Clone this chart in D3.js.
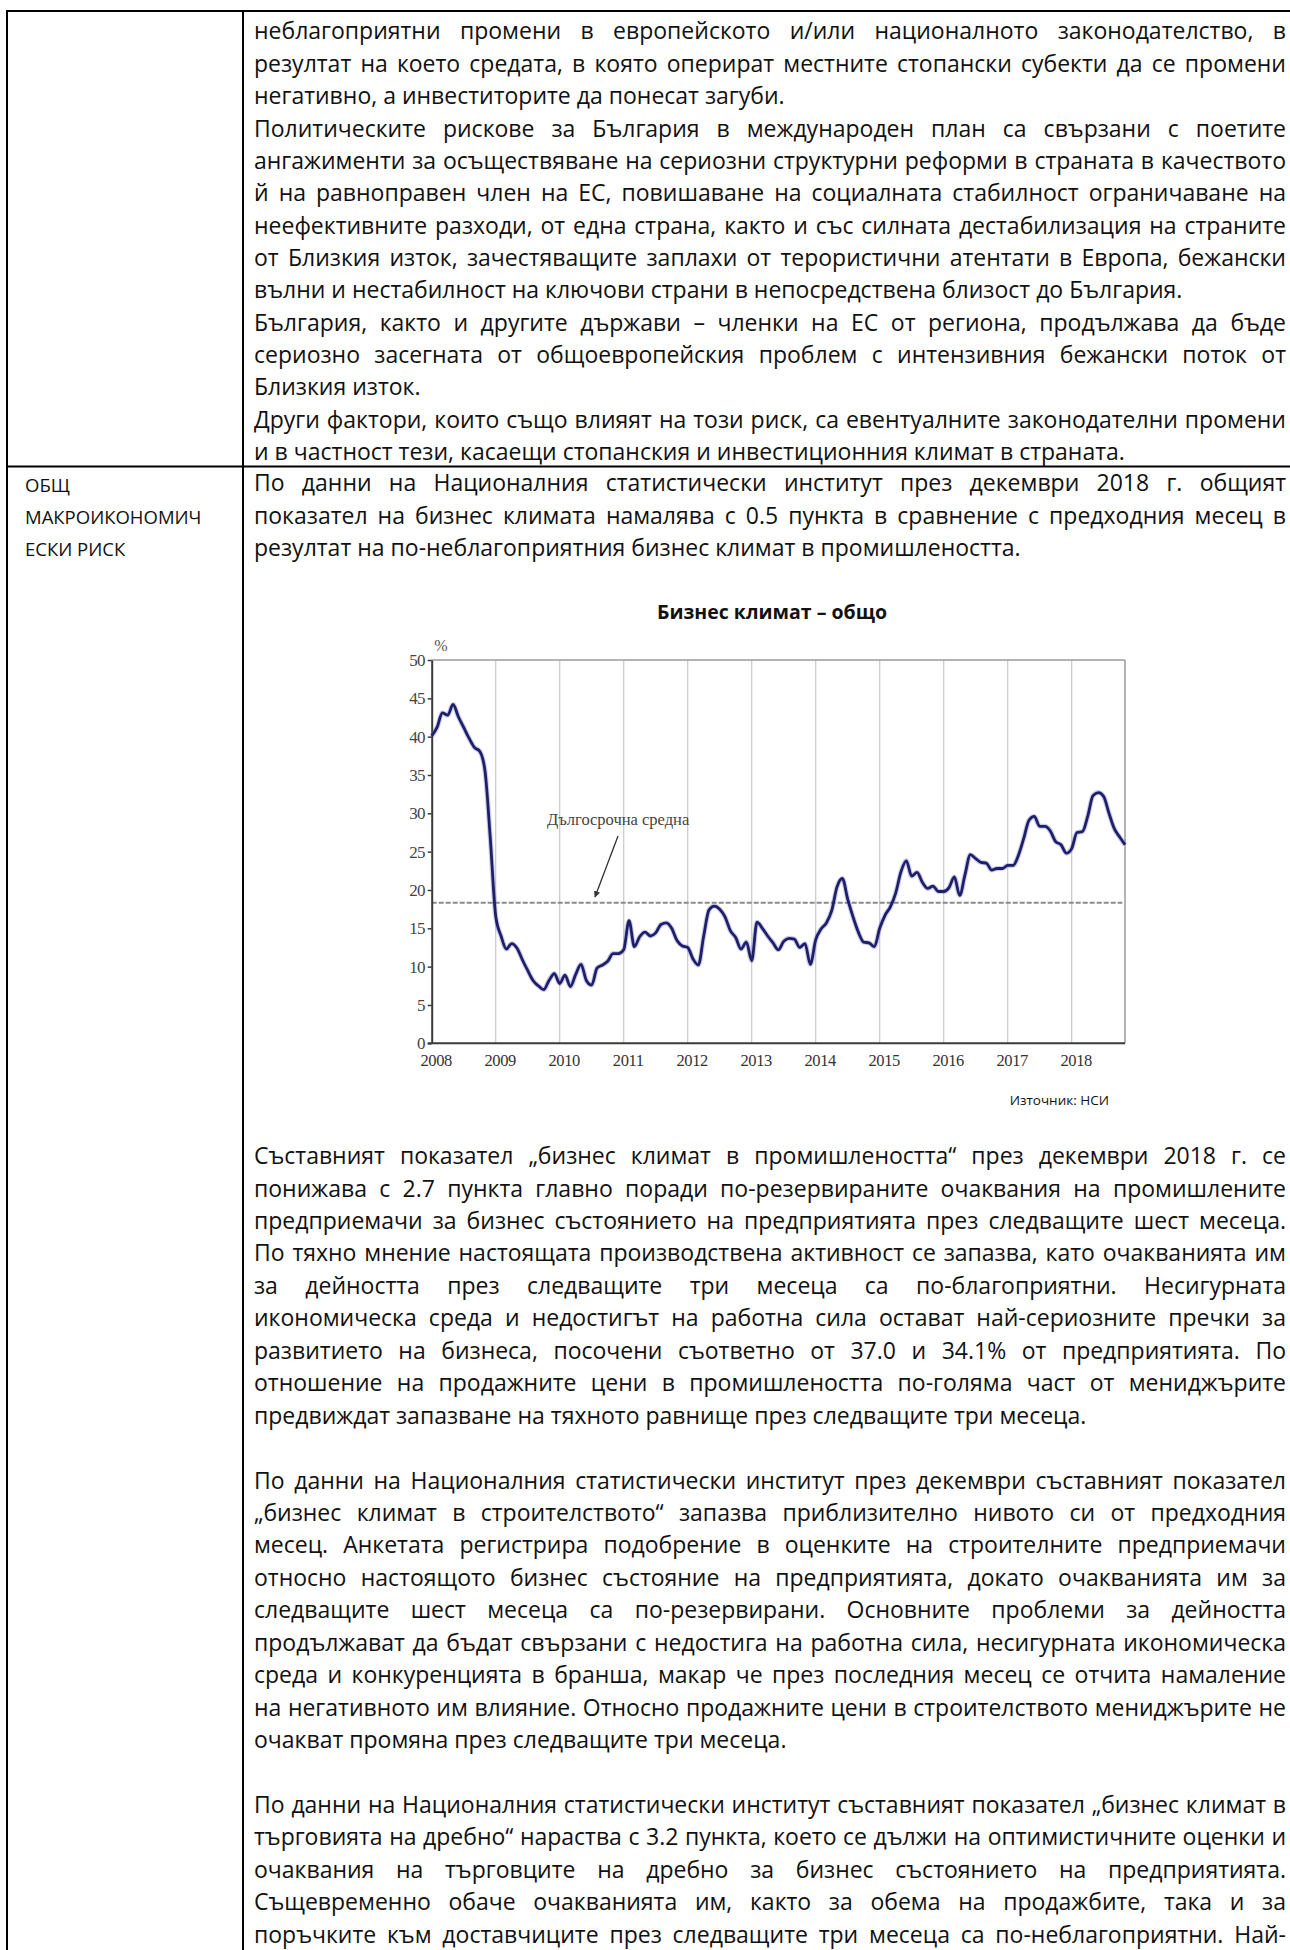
<!DOCTYPE html>
<html><head><meta charset="utf-8">
<script src="https://cdn.jsdelivr.net/npm/d3@7"></script>
<style>html,body{margin:0;padding:0;background:#fff;} svg{display:block;}</style>
</head><body>
<script>
// ---------- DATA ----------
const yearLabels = ["2008","2009","2010","2011","2012","2013","2014","2015","2016","2017","2018"];
const yTicks = [0,5,10,15,20,25,30,35,40,45,50];
const longTermAverage = 18.35;
// monthly business climate index, Jan 2008 ... Nov 2018
const businessClimate = [
 40.1,41.2,43.1,42.8,44.2,42.6,41.2,39.8,38.6,38.1,35.5,26.6,
 16.6,14.0,12.3,13.0,12.4,10.9,9.5,8.2,7.5,7.0,8.2,9.1,
 7.8,8.9,7.4,9.0,10.3,8.2,7.6,9.8,10.2,10.7,11.7,11.7,
 12.2,16.0,12.6,13.9,14.5,14.0,14.4,15.5,15.7,15.0,13.4,12.7,
 12.5,11.0,10.2,14.0,17.4,17.9,17.5,16.5,14.7,13.8,12.3,13.2,
 10.8,15.8,15.0,14.0,13.1,12.2,13.3,13.7,13.6,12.5,13.0,10.3,
 13.5,14.9,15.7,17.3,20.4,21.5,18.8,16.5,14.5,13.2,13.1,12.6,
 15.0,16.7,17.8,19.6,22.4,23.8,21.8,22.3,21.0,20.2,20.5,19.8,
 19.8,20.3,21.7,19.3,22.0,24.6,24.1,23.6,23.5,22.6,22.8,22.8,
 23.2,23.2,24.5,26.7,29.1,29.6,28.3,28.3,27.7,26.3,25.9,24.8,
 25.4,27.5,27.6,29.6,32.3,32.7,32.2,30.0,28.0,26.9,25.9
];
const chartTitle = "Бизнес климат – общо";
const averageLabel = "Дългосрочна средна";
const sourceLabel = "Източник: НСИ";
const rowLabel = ["ОБЩ","МАКРОИКОНОМИЧ","ЕСКИ РИСК"];

const topParagraphs = [
 ["неблагоприятни промени в европейското и/или националното законодателство, в",
  "резултат на което средата, в която оперират местните стопански субекти да се промени",
  "негативно, а инвеститорите да понесат загуби."],
 ["Политическите рискове за България в международен план са свързани с поетите",
  "ангажименти за осъществяване на сериозни структурни реформи в страната в качеството",
  "й на равноправен член на ЕС, повишаване на социалната стабилност ограничаване на",
  "неефективните разходи, от една страна, както и със силната дестабилизация на страните",
  "от Близкия изток, зачестяващите заплахи от терористични атентати в Европа, бежански",
  "вълни и нестабилност на ключови страни в непосредствена близост до България."],
 ["България, както и другите държави – членки на ЕС от региона, продължава да бъде",
  "сериозно засегната от общоевропейския проблем с интензивния бежански поток от",
  "Близкия изток."],
 ["Други фактори, които също влияят на този риск, са евентуалните законодателни промени",
  "и в частност тези, касаещи стопанския и инвестиционния климат в страната."]
];
const introParagraph = [
 "По данни на Националния статистически институт през декември 2018 г. общият",
 "показател на бизнес климата намалява с 0.5 пункта в сравнение с предходния месец в",
 "резултат на по-неблагоприятния бизнес климат в промишлеността."
];
const bottomParagraphs = [
 ["Съставният показател „бизнес климат в промишлеността“ през декември 2018 г. се",
  "понижава с 2.7 пункта главно поради по-резервираните очаквания на промишлените",
  "предприемачи за бизнес състоянието на предприятията през следващите шест месеца.",
  "По тяхно мнение настоящата производствена активност се запазва, като очакванията им",
  "за дейността през следващите три месеца са по-благоприятни. Несигурната",
  "икономическа среда и недостигът на работна сила остават най-сериозните пречки за",
  "развитието на бизнеса, посочени съответно от 37.0 и 34.1% от предприятията. По",
  "отношение на продажните цени в промишлеността по-голяма част от мениджърите",
  "предвиждат запазване на тяхното равнище през следващите три месеца."],
 ["По данни на Националния статистически институт през декември съставният показател",
  "„бизнес климат в строителството“ запазва приблизително нивото си от предходния",
  "месец. Анкетата регистрира подобрение в оценките на строителните предприемачи",
  "относно настоящото бизнес състояние на предприятията, докато очакванията им за",
  "следващите шест месеца са по-резервирани. Основните проблеми за дейността",
  "продължават да бъдат свързани с недостига на работна сила, несигурната икономическа",
  "среда и конкуренцията в бранша, макар че през последния месец се отчита намаление",
  "на негативното им влияние. Относно продажните цени в строителството мениджърите не",
  "очакват промяна през следващите три месеца."],
 ["По данни на Националния статистически институт съставният показател „бизнес климат в",
  "търговията на дребно“ нараства с 3.2 пункта, което се дължи на оптимистичните оценки и",
  "очаквания на търговците на дребно за бизнес състоянието на предприятията.",
  "Същевременно обаче очакванията им, както за обема на продажбите, така и за",
  "поръчките към доставчиците през следващите три месеца са по-неблагоприятни. Най-"]
];

// ---------- PAGE ----------
const W = 1290, H = 1950;
const FONT = "'Open Sans','Noto Sans',sans-serif";
const SERIF = "'Liberation Serif','DejaVu Serif',serif";
const FS = 23;
const TX = 254, TR = 1286, TW = TR - TX;

const svg = d3.select("body").append("svg").attr("width", W).attr("height", H);

// table rules
const rules = svg.append("g").attr("stroke", "#000").attr("stroke-width", 2);
rules.append("line").attr("x1", 6).attr("x2", W).attr("y1", 11).attr("y2", 11);
rules.append("line").attr("x1", 7).attr("x2", 7).attr("y1", 10).attr("y2", H);
rules.append("line").attr("x1", 243).attr("x2", 243).attr("y1", 10).attr("y2", H);
rules.append("line").attr("x1", 6).attr("x2", W).attr("y1", 466.5).attr("y2", 466.5);

const textG = svg.append("g").attr("font-family", FONT).attr("fill", "#111");

function drawLine(text, cy, justify, fs = FS, x0 = TX, width = TW) {
  const words = text.split(" ");
  const g = textG.append("g");
  const t = g.selectAll("text").data(words).join("text")
    .attr("font-size", fs).attr("y", cy + fs * 0.268).text(d => d);
  const widths = t.nodes().map(n => n.getComputedTextLength());
  const total = d3.sum(widths);
  const gap = (justify && words.length > 1) ? (width - total) / (words.length - 1) : fs * 0.26;
  let cx = x0;
  const xs = widths.map(w => { const v = cx; cx += w + gap; return v; });
  t.attr("x", (d, i) => xs[i]);
}
function drawParagraphs(paras, startY, step) {
  let y = startY;
  paras.forEach(p => {
    p.forEach((line, li) => {
      drawLine(line, y, li !== p.length - 1);
      y += step;
    });
  });
}
drawParagraphs(topParagraphs, 33.3, 32.35);
drawParagraphs([introParagraph], 485, 32.4);
// after chart: paragraphs separated by one blank line
{
  let y = 1158;
  const step = 32.44;
  bottomParagraphs.forEach((p, pi) => {
    p.forEach((line, li) => {
      const isLast = li === p.length - 1;
      drawLine(line, y, !isLast || pi === bottomParagraphs.length - 1);
      y += step;
    });
    y += step;
  });
}
// left column label
rowLabel.forEach((s, i) => {
  textG.append("text").attr("x", 25).attr("y", 485 + i * 32.4 + 6.5)
    .attr("font-size", 18.5).text(s);
});

// chart title
textG.append("text").attr("x", 772).attr("y", 619).attr("text-anchor", "middle")
  .attr("font-size", 19.5).attr("font-weight", "bold").text(chartTitle);
// source
textG.append("text").attr("x", 1109).attr("y", 1104.5).attr("text-anchor", "end")
  .attr("font-size", 13.5).text(sourceLabel);

// ---------- CHART ----------
const months = businessClimate.map((v, i) => i);
const x = d3.scaleLinear().domain([0, 130]).range([431.7, 1125]);
const y = d3.scaleLinear().domain([0, 50]).range([1043.3, 660]);
const chart = svg.append("g");

const yearMonths = yearLabels.map((d, i) => i * 12);
// vertical grid lines
chart.append("g").selectAll("line").data(yearMonths.slice(1)).join("line")
  .attr("x1", d => x(d)).attr("x2", d => x(d)).attr("y1", y(50)).attr("y2", y(0))
  .attr("stroke", "#cccccc").attr("stroke-width", 1.3);
// top & right frame
chart.append("line").attr("x1", x(0)).attr("x2", x(130)).attr("y1", y(50)).attr("y2", y(50))
  .attr("stroke", "#9a9a9a").attr("stroke-width", 1.5);
chart.append("line").attr("x1", x(130)).attr("x2", x(130)).attr("y1", y(50)).attr("y2", y(0))
  .attr("stroke", "#9a9a9a").attr("stroke-width", 1.5);

// long-term average
chart.append("line").attr("x1", x(0)).attr("x2", x(129.5))
  .attr("y1", y(longTermAverage)).attr("y2", y(longTermAverage))
  .attr("stroke", "#8a8a8a").attr("stroke-width", 2).attr("stroke-dasharray", "5,2");

// y axis
const yAxis = chart.append("g").attr("transform", `translate(${x(0)},0)`)
  .call(d3.axisLeft(y).tickValues(yTicks).tickSize(4).tickSizeOuter(0).tickPadding(3));
yAxis.select(".domain").attr("stroke", "#3a3a3a").attr("stroke-width", 2);
yAxis.selectAll(".tick line").attr("stroke", "#3a3a3a").attr("stroke-width", 1.5);
yAxis.selectAll(".tick text").attr("font-family", SERIF).attr("font-size", 17)
  .attr("fill", "#444").attr("letter-spacing", -0.8);

// x axis
const xAxis = chart.append("g").attr("transform", `translate(0,${y(0)})`)
  .call(d3.axisBottom(x).tickValues(yearMonths).tickSize(0).tickPadding(11)
    .tickFormat((d, i) => yearLabels[i]));
xAxis.select(".domain").attr("stroke", "#3a3a3a").attr("stroke-width", 2)
  .attr("d", `M${x(0) - 4},0H${x(130)}`);
xAxis.selectAll(".tick text").attr("font-family", SERIF).attr("font-size", 16.5)
  .attr("fill", "#333").attr("dx", 4).attr("letter-spacing", -0.4);

// % label
chart.append("text").attr("x", 441).attr("y", 651).attr("text-anchor", "middle")
  .attr("font-family", SERIF).attr("font-size", 16).attr("fill", "#555").text("%");

// annotation
chart.append("text").attr("x", 547).attr("y", 825).attr("font-family", SERIF)
  .attr("font-size", 16.5).attr("fill", "#444").text(averageLabel);
const defs = svg.append("defs");
defs.append("marker").attr("id", "ah").attr("viewBox", "0 0 10 10").attr("refX", 9).attr("refY", 5)
  .attr("markerWidth", 5).attr("markerHeight", 5).attr("orient", "auto")
  .append("path").attr("d", "M0,0L10,5L0,10z").attr("fill", "#333");
chart.append("line").attr("x1", 618).attr("y1", 836).attr("x2", 595).attr("y2", 897)
  .attr("stroke", "#333").attr("stroke-width", 1.3).attr("marker-end", "url(#ah)");

// series line
const lineGen = d3.line().x((d, i) => x(months[i])).y(d => y(d)).curve(d3.curveMonotoneX);
chart.append("path").datum(businessClimate).attr("d", lineGen)
  .attr("fill", "none").attr("stroke", "#6b6bd0").attr("stroke-opacity", 0.35).attr("stroke-width", 5);
chart.append("path").datum(businessClimate).attr("d", lineGen)
  .attr("fill", "none").attr("stroke", "#1f1f66").attr("stroke-width", 2.8)
  .attr("stroke-linejoin", "round");
</script>
</body></html>
